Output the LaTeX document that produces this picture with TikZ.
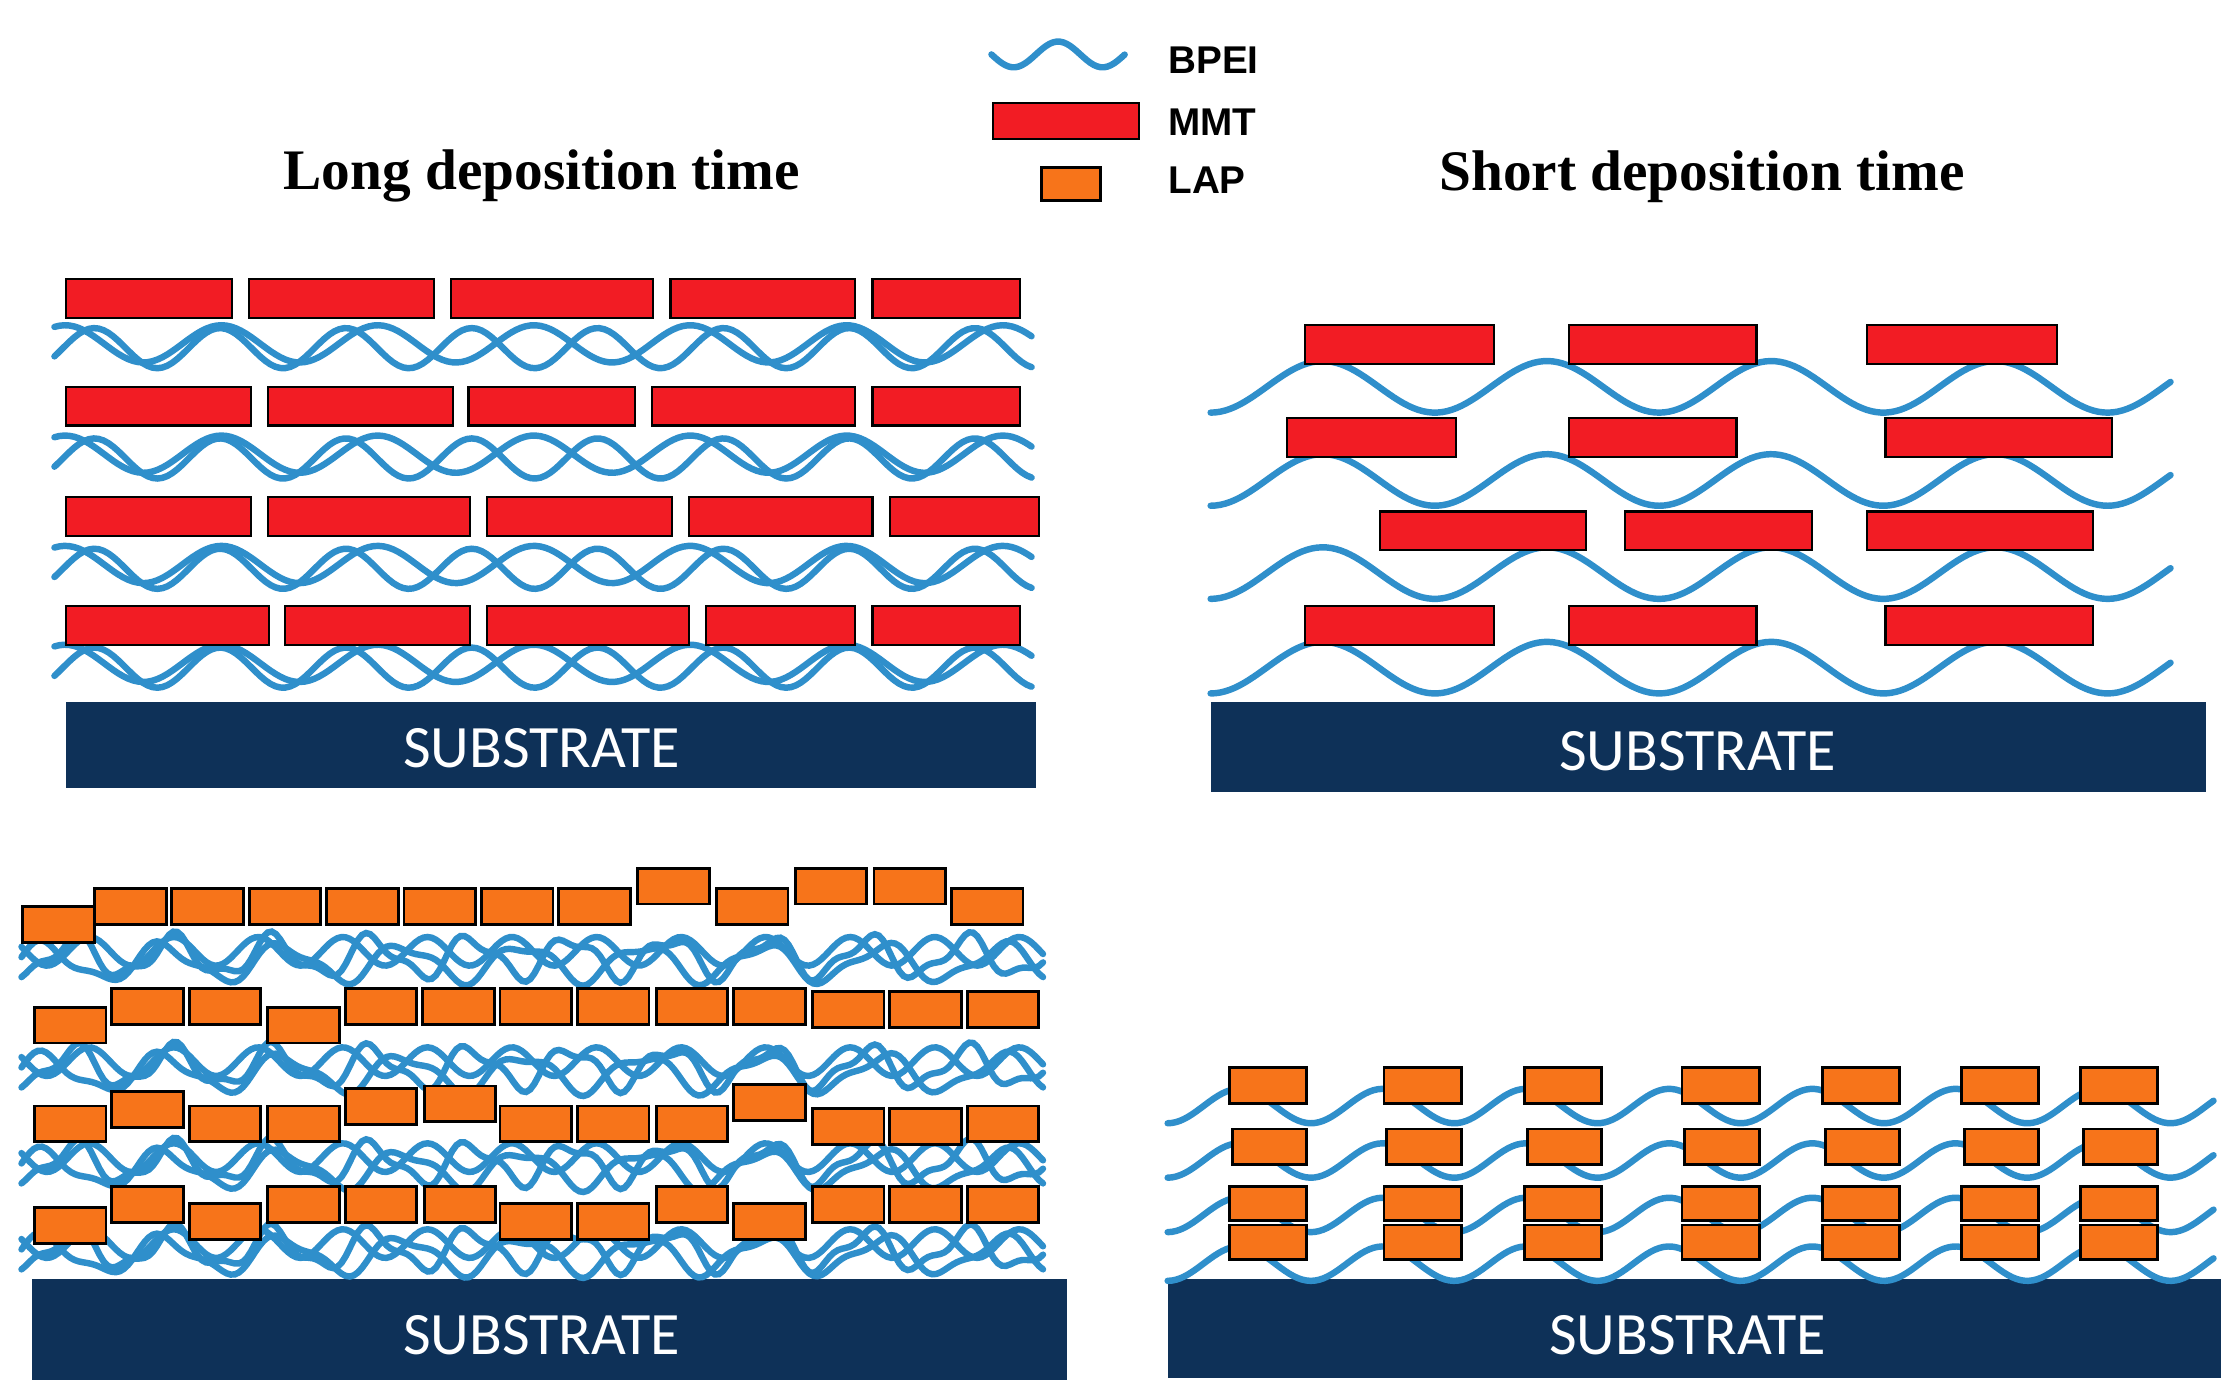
\documentclass[tikz,border=0pt]{standalone}
\usepackage{fontspec}
\setmainfont{Liberation Serif}
\newfontfamily\subfont{Carlito}
\newfontfamily\legfont{Liberation Sans}
\usetikzlibrary{positioning}
\definecolor{bpeiblue}{HTML}{2F8FCB}
\definecolor{mmtred}{HTML}{F21C24}
\definecolor{laporange}{HTML}{F7741A}
\definecolor{subnavy}{HTML}{0E3158}

\begin{document}
\begin{tikzpicture}[
  x=1pt,y=-1pt,
  bpei/.style={bpeiblue,line width=4.5pt,line cap=round},
  mmt/.style={fill=mmtred,draw=black,line width=1.5pt},
  lap/.style={fill=laporange,draw=black,line width=2pt},
  substrate/.style={fill=subnavy,draw=none},
  sublbl/.style={text=white,font=\subfont\fontsize{42}{42}\selectfont},
  title/.style={font=\bfseries\fontsize{40}{40}\selectfont},
  leg/.style={anchor=west,font=\legfont\bfseries\fontsize{27}{27}\selectfont}
]
  \useasboundingbox (0,0) rectangle (1560,975);

  % Legend
  \draw[bpei] plot[domain=692:785,samples=40] (\x,{38+9*sin((\x-692)*5.8)});
  \draw[mmt] (693,72) rectangle (795,97);
  \draw[lap] (727,117) rectangle (768,140);
  \node[leg] (lbpei) at (812,42) {BPEI};
  \node[leg] (lmmt) at (812,85) {MMT};
  \node[leg] (llap) at (812,126) {LAP};

  % Titles
  \node[title] (tlong) at (378,123) {Long deposition time};
  \node[title] (tshort) at (1188,123) {Short deposition time};

  % Substrates
  \fill[substrate] (46,490) rectangle (723,550);
  \node[sublbl] (s1) at (378,522) {SUBSTRATE};
  \fill[substrate] (845,490) rectangle (1540,553);
  \node[sublbl] (s2) at (1185,524) {SUBSTRATE};
  \fill[substrate] (22,893) rectangle (745,963);
  \node[sublbl] (s3) at (378,932) {SUBSTRATE};
  \fill[substrate] (815,893) rectangle (1550,962);
  \node[sublbl] (s4) at (1178,932) {SUBSTRATE};

  % Long deposition, MMT: BPEI tangles
  \foreach \yc in {243,320,397,466}{
    \draw[bpei] plot[domain=38:720,samples=200] (\x,{\yc+14*sin(\x*4.1)});
    \draw[bpei] plot[domain=38:720,samples=200] (\x,{\yc-3+13*sin(\x*3.3+120)});
  }
  % Long deposition, MMT platelets
  \foreach \l/\r in {46/162,174/303,315/456,468/597,609/712}
    \draw[mmt] (\l,195) rectangle (\r,222);
  \foreach \l/\r in {46/175,187/316,327/443,455/597,609/712}
    \draw[mmt] (\l,270) rectangle (\r,297);
  \foreach \l/\r in {46/175,187/328,340/469,481/609,621/725}
    \draw[mmt] (\l,347) rectangle (\r,374);
  \foreach \l/\r in {46/188,199/328,340/481,493/597,609/712}
    \draw[mmt] (\l,423) rectangle (\r,450);

  % Short deposition, MMT
  \foreach \yc in {270,335,400,466}
    \draw[bpei] plot[domain=845:1515,samples=200] (\x,{\yc+18*sin((\x-845)*2.3+90)});
  \foreach \l/\r in {911/1043,1095/1226,1303/1436}
    \draw[mmt] (\l,227) rectangle (\r,254);
  \foreach \l/\r in {898/1016,1095/1212,1316/1474}
    \draw[mmt] (\l,292) rectangle (\r,319);
  \foreach \l/\r in {963/1107,1134/1265,1303/1461}
    \draw[mmt] (\l,357) rectangle (\r,384);
  \foreach \l/\r in {911/1043,1095/1226,1316/1461}
    \draw[mmt] (\l,423) rectangle (\r,450);

  % Long deposition, LAP: BPEI tangles
  \foreach \yc in {668,745,812,872}{
    \draw[bpei] plot[domain=15:728,samples=250] (\x,{\yc+13*sin(\x*5.2)+5*sin(\x*11)});
    \draw[bpei] plot[domain=15:728,samples=250] (\x,{\yc+4+12*sin(\x*4.3+140)+4*sin(\x*9+30)});
    \draw[bpei] plot[domain=15:728,samples=250] (\x,{\yc-4+10*sin(\x*6.1+250)});
  }
  % Long deposition, LAP platelets
  \foreach \l/\t in {16/633,66/620,120/620,174/620,228/620,282/620,336/620,390/620,445/606,500/620,555/606,610/606,664/620}
    \draw[lap] (\l,\t) rectangle ++(50,25);
  \foreach \l/\t in {24/703,78/690,132/690,187/703,241/690,295/690,349/690,403/690,458/690,512/690,567/692,621/692,675/692}
    \draw[lap] (\l,\t) rectangle ++(50,25);
  \foreach \l/\t in {24/772,78/762,132/772,187/772,241/760,296/758,349/772,403/772,458/772,512/757,567/774,621/774,675/772}
    \draw[lap] (\l,\t) rectangle ++(50,25);
  \foreach \l/\t in {24/843,78/828,132/840,187/828,241/828,296/828,349/840,403/840,458/828,512/840,567/828,621/828,675/828}
    \draw[lap] (\l,\t) rectangle ++(50,25);

  % Short deposition, LAP
  \foreach \yc in {772,810,848,882}
    \draw[bpei] plot[domain=815:1545,samples=250] (\x,{\yc+12*sin((\x-815)*3.6+90)});
  \foreach \c in {885,993,1091,1201,1299,1396,1479}{
    \draw[lap] (\c-27,745) rectangle ++(54,25);
    \draw[lap] (\c-25,788) rectangle ++(52,25);
    \draw[lap] (\c-27,828) rectangle ++(54,24);
    \draw[lap] (\c-27,855) rectangle ++(54,24);
  }
\end{tikzpicture}
\end{document}
